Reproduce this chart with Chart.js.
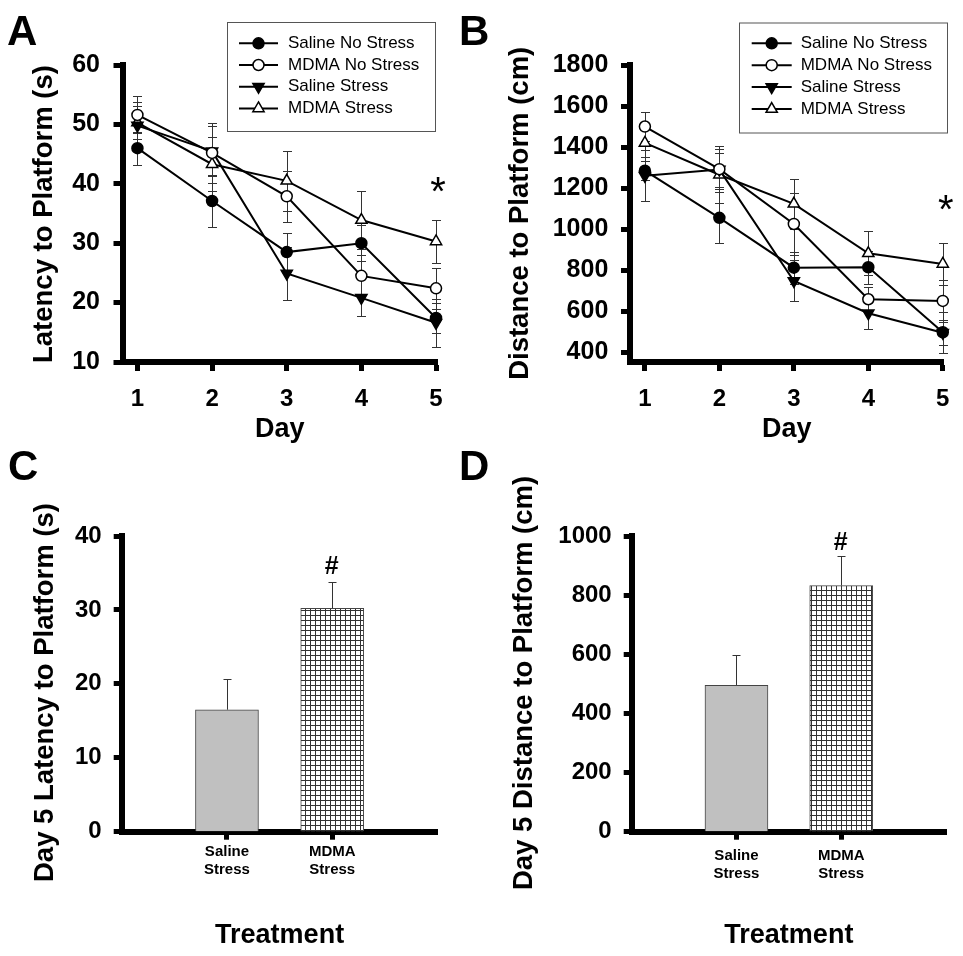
<!DOCTYPE html>
<html>
<head>
<meta charset="utf-8">
<script src="https://cdn.jsdelivr.net/npm/chart.js@4.4.0/dist/chart.umd.min.js"></script>
<style>
  body { margin: 0; background: #fff; }
  #wrap { position: relative; width: 963px; height: 956px; overflow: hidden; }
  canvas { position: absolute; }
  .tag { position: absolute; font: bold 42px "Liberation Sans", Arial, sans-serif; line-height: 42px; color: #000; }
</style>
</head>
<body>
<div id="wrap">
  <canvas id="chartA" width="481" height="460" style="left:0;top:0"></canvas>
  <canvas id="chartB" width="482" height="460" style="left:481px;top:0"></canvas>
  <canvas id="chartC" width="481" height="496" style="left:0;top:460px"></canvas>
  <canvas id="chartD" width="482" height="496" style="left:481px;top:460px"></canvas>
  <div class="tag" style="left:7px;top:9.5px">A</div>
  <div class="tag" style="left:459px;top:9.5px">B</div>
  <div class="tag" style="left:8px;top:445px">C</div>
  <div class="tag" style="left:459px;top:445px">D</div>
</div>
<script>
const FONT = "'Liberation Sans', Arial, sans-serif";
Chart.defaults.font.family = FONT;
Chart.defaults.color = '#000';

const days = [1, 2, 3, 4, 5];
const groups = ['Saline No Stress', 'MDMA No Stress', 'Saline Stress', 'MDMA Stress'];
const treatments = ['Saline Stress', 'MDMA Stress'];

const latencyTicks = [10, 20, 30, 40, 50, 60];
const distanceTicks = [400, 600, 800, 1000, 1200, 1400, 1600, 1800];
const day5LatencyTicks = [0, 10, 20, 30, 40];
const day5DistanceTicks = [0, 200, 400, 600, 800, 1000];

// A - latency to platform (s), mean and SEM per day
const latSalineNoStress = [46.0, 37.1, 28.5, 30.0, 17.4];
const latMdmaNoStress   = [51.6, 45.2, 37.9, 24.5, 22.4];
const latSalineStress   = [49.8, 45.5, 24.9, 20.8, 16.6];
const latMdmaStress     = [50.3, 43.3, 40.5, 33.9, 30.3];
const latSalineNoStressErr = [2.8, 4.3, 3.2, 3.0, 2.6];
const latMdmaNoStressErr   = [3.1, 5.0, 4.3, 3.5, 3.5];
const latSalineStressErr   = [4.0, 4.2, 4.5, 3.1, 4.0];
const latMdmaStressErr     = [2.8, 4.5, 5.0, 4.9, 3.6];

// B - distance to platform (cm)
const distSalineNoStress = [1285, 1055, 812, 814, 497];
const distMdmaNoStress   = [1500, 1292, 1025, 658, 650];
const distSalineStress   = [1260, 1290, 747, 590, 495];
const distMdmaStress     = [1420, 1265, 1123, 882, 830];
const distSalineNoStressErr = [45, 125, 78, 80, 60];
const distMdmaNoStressErr   = [72, 97, 152, 60, 102];
const distSalineStressErr   = [125, 83, 100, 78, 100];
const distMdmaStressErr     = [70, 139, 122, 108, 101];

// C, D - day 5 only
const day5Latency = [16.5, 30.2];
const day5LatencyErr = [4.1, 3.6];
const day5Distance = [495, 832];
const day5DistanceErr = [103, 101];

const markerStyles = [
  { pointStyle: 'circle', pointRadius: 5.5, pointBackgroundColor: '#000', pointRotation: 0 },
  { pointStyle: 'circle', pointRadius: 5.5, pointBackgroundColor: '#fff', pointRotation: 0 },
  { pointStyle: 'triangle', pointRadius: 6.5, pointBackgroundColor: '#000', pointRotation: 180 },
  { pointStyle: 'triangle', pointRadius: 6.5, pointBackgroundColor: '#fff', pointRotation: 0 }
];

function marker(ctx, opts, x, y) {
  if (Chart.helpers && Chart.helpers.drawPoint) {
    Chart.helpers.drawPoint(ctx, opts, x, y);
    return;
  }
  ctx.beginPath();
  if (opts.pointStyle === 'circle') {
    ctx.arc(x, y, opts.radius, 0, Math.PI * 2);
  } else {
    let rad = opts.rotation * Math.PI / 180;
    for (let k = 0; k < 3; k++) {
      const px = x + Math.sin(rad) * opts.radius, py = y - Math.cos(rad) * opts.radius;
      k ? ctx.lineTo(px, py) : ctx.moveTo(px, py);
      rad += 2 * Math.PI / 3;
    }
    ctx.closePath();
  }
  ctx.fill();
  ctx.stroke();
}

// error bars, y titles, legend box and significance marks
const decor = {
  id: 'decor',
  beforeDatasetsDraw(chart, args, o) {
    const ctx = chart.ctx, ys = chart.scales.y;
    ctx.save();
    ctx.strokeStyle = '#333';
    ctx.lineWidth = 1;
    chart.data.datasets.forEach((ds, i) => {
      if (!ds.errors) return;
      chart.getDatasetMeta(i).data.forEach((el, j) => {
        const v = ds.data[j].y, e = ds.errors[j];
        const x = Math.round(el.x) + 0.5;
        const hi = Math.round(ys.getPixelForValue(v + e)) + 0.5;
        const lo = o.upOnly ? el.y : Math.round(ys.getPixelForValue(v - e)) + 0.5;
        const c = o.cap;
        ctx.beginPath();
        ctx.moveTo(x, hi); ctx.lineTo(x, lo);
        ctx.moveTo(x - c, hi); ctx.lineTo(x + c, hi);
        if (!o.upOnly) { ctx.moveTo(x - c, lo); ctx.lineTo(x + c, lo); }
        ctx.stroke();
      });
    });
    ctx.restore();
  },
  afterDraw(chart, args, o) {
    const ctx = chart.ctx;
    ctx.save();
    ctx.fillStyle = '#000';
    if (o.yTitle) {
      const t = o.yTitle;
      ctx.save();
      ctx.translate(t.x, t.y);
      ctx.rotate(-Math.PI / 2);
      ctx.font = `bold 27.5px ${FONT}`;
      ctx.textAlign = 'center';
      ctx.textBaseline = 'alphabetic';
      ctx.fillText(t.text, 0, 0);
      ctx.restore();
    }
    if (o.legend) {
      const L = o.legend;
      ctx.strokeStyle = '#555';
      ctx.lineWidth = 1;
      ctx.strokeRect(L.x + 0.5, L.y + 0.5, L.w, L.h);
      ctx.font = `17px ${FONT}`;
      ctx.textAlign = 'left';
      ctx.textBaseline = 'middle';
      chart.data.datasets.forEach((ds, i) => {
        const ry = L.row0 + i * L.step;
        ctx.strokeStyle = '#000';
        ctx.lineWidth = 2;
        ctx.beginPath(); ctx.moveTo(L.x1, ry); ctx.lineTo(L.x2, ry); ctx.stroke();
        ctx.fillStyle = ds.pointBackgroundColor;
        ctx.lineWidth = ds.pointBorderWidth;
        marker(ctx, { pointStyle: ds.pointStyle, rotation: ds.pointRotation, radius: ds.pointRadius, borderWidth: ds.pointBorderWidth }, (L.x1 + L.x2) / 2, ry);
        ctx.fillStyle = '#000';
        ctx.fillText(ds.label, L.textX, ry);
      });
    }
    (o.marks || []).forEach(m => {
      ctx.font = `${m.font} ${FONT}`;
      ctx.textAlign = 'center';
      ctx.textBaseline = 'alphabetic';
      ctx.fillStyle = '#000';
      ctx.fillText(m.text, m.x, m.y);
    });
    ctx.restore();
  }
};

function axisStyle(tick) {
  return {
    border: { color: '#000', width: 6 },
    grid: { drawOnChartArea: false, offset: false, tickLength: tick, tickWidth: 5, tickColor: '#000' }
  };
}

function lineChart(id, c) {
  const datasets = c.means.map((m, i) => Object.assign({
    label: groups[i],
    data: days.map((d, j) => ({ x: d, y: m[j] })),
    errors: c.errs[i],
    borderColor: '#000',
    borderWidth: 2,
    pointBorderColor: '#000',
    pointBorderWidth: 1.5,
    tension: 0,
    clip: false
  }, markerStyles[i]));

  return new Chart(document.getElementById(id), {
    type: 'line',
    data: { datasets },
    options: {
      responsive: false, animation: false, devicePixelRatio: 1, events: [],
      layout: { padding: { left: 0, top: c.area.t, right: c.W - c.area.r, bottom: 0 } },
      plugins: { legend: { display: false }, tooltip: { enabled: false }, decor: c.decor },
      scales: {
        x: Object.assign(axisStyle(9), {
          type: 'linear', min: c.xMin, max: c.xMax, offset: false,
          afterBuildTicks: s => { s.ticks = days.map(v => ({ value: v })); },
          afterFit: s => { s.height = c.H - c.area.b; },
          ticks: { padding: 13.5, font: { size: 24, weight: 'bold' }, callback: v => String(v) },
          title: { display: true, text: 'Day', font: { size: 27, weight: 'bold' }, padding: { top: 0, bottom: 13.9 } }
        }),
        y: Object.assign(axisStyle(9), {
          type: 'linear', min: c.yMin, max: c.yMax,
          afterBuildTicks: s => { s.ticks = c.yTicks.map(v => ({ value: v })); },
          afterFit: s => { s.width = c.area.l; },
          ticks: { padding: c.yPad, font: { size: 25, weight: 'bold' }, callback: v => String(v) }
        })
      }
    },
    plugins: [decor]
  });
}

function gridPattern() {
  const pc = document.createElement('canvas');
  pc.width = 5; pc.height = 5;
  const g = pc.getContext('2d');
  g.fillStyle = '#fff'; g.fillRect(0, 0, 5, 5);
  g.fillStyle = '#333'; g.fillRect(0, 0, 5, 1); g.fillRect(0, 0, 1, 5);
  return g.createPattern(pc, 'repeat');
}

function barChart(id, c) {
  return new Chart(document.getElementById(id), {
    type: 'bar',
    data: {
      datasets: [{
        data: c.values.map((v, i) => ({ x: i + 1, y: v })),
        errors: c.errs,
        backgroundColor: ['#c0c0c0', gridPattern()],
        borderColor: '#444',
        borderWidth: 1,
        barThickness: 63
      }]
    },
    options: {
      responsive: false, animation: false, devicePixelRatio: 1, events: [],
      layout: { padding: { left: 0, top: c.area.t, right: c.W - c.area.r, bottom: 0 } },
      plugins: { legend: { display: false }, tooltip: { enabled: false }, decor: c.decor },
      scales: {
        x: Object.assign(axisStyle(8), {
          type: 'linear', min: 0, max: 3, offset: false,
          afterBuildTicks: s => { s.ticks = treatments.map((t, i) => ({ value: i + 1 })); },
          afterFit: s => { s.height = c.H - c.area.b; },
          ticks: { padding: c.xPad, font: { size: 15, weight: 'bold' }, callback: v => treatments[v - 1].split(' ') },
          title: { display: true, text: 'Treatment', font: { size: 27, weight: 'bold' }, padding: { top: 0, bottom: 4.3 } }
        }),
        y: Object.assign(axisStyle(8), {
          type: 'linear', min: c.yMin, max: c.yMax,
          afterBuildTicks: s => { s.ticks = c.yTicks.map(v => ({ value: v })); },
          afterFit: s => { s.width = c.area.l; },
          ticks: { padding: 12, font: { size: 24, weight: 'bold' }, callback: v => String(v) }
        })
      }
    },
    plugins: [decor]
  });
}

lineChart('chartA', {
  W: 481, H: 460, area: { l: 122.5, r: 437, t: 65, b: 362 },
  xMin: 0.8, xMax: 5.013, yMin: 10, yMax: 60, yTicks: latencyTicks, yPad: 13.5,
  means: [latSalineNoStress, latMdmaNoStress, latSalineStress, latMdmaStress],
  errs: [latSalineNoStressErr, latMdmaNoStressErr, latSalineStressErr, latMdmaStressErr],
  decor: {
    cap: 4.5,
    yTitle: { text: 'Latency to Platform (s)', x: 51.7, y: 214 },
    legend: { x: 227, y: 22, w: 208, h: 109, row0: 43.3, step: 21.7, x1: 239, x2: 278, textX: 288 },
    marks: [{ text: '*', x: 438, y: 205, font: '40px' }]
  }
});

lineChart('chartB', {
  W: 482, H: 460, area: { l: 149, r: 465, t: 65, b: 362 },
  xMin: 0.8, xMax: 5.01, yMin: 352, yMax: 1800, yTicks: distanceTicks, yPad: 12.7,
  means: [distSalineNoStress, distMdmaNoStress, distSalineStress, distMdmaStress],
  errs: [distSalineNoStressErr, distMdmaNoStressErr, distSalineStressErr, distMdmaStressErr],
  decor: {
    cap: 4.5,
    yTitle: { text: 'Distance to Platform (cm)', x: 47.3, y: 213.3 },
    legend: { x: 258, y: 22.5, w: 208, h: 110, row0: 43.3, step: 21.9, x1: 270.7, x2: 310.7, textX: 319.7 },
    marks: [{ text: '*', x: 464.7, y: 223, font: '40px' }]
  }
});

barChart('chartC', {
  W: 481, H: 496, area: { l: 121.7, r: 437.5, t: 76, b: 371.7 },
  yMin: 0, yMax: 40, yTicks: day5LatencyTicks, xPad: 3.5,
  values: day5Latency, errs: day5LatencyErr,
  decor: {
    cap: 4, upOnly: true,
    yTitle: { text: 'Day 5 Latency to Platform (s)', x: 53.3, y: 232.5 },
    marks: [{ text: '#', x: 331.7, y: 114, font: 'bold 25px' }]
  }
});

barChart('chartD', {
  W: 482, H: 496, area: { l: 150.7, r: 465, t: 76, b: 371.7 },
  yMin: 0, yMax: 1000, yTicks: day5DistanceTicks, xPad: 6.8,
  values: day5Distance, errs: day5DistanceErr,
  decor: {
    cap: 4, upOnly: true,
    yTitle: { text: 'Day 5 Distance to Platform (cm)', x: 50.7, y: 223 },
    marks: [{ text: '#', x: 359.7, y: 90, font: 'bold 25px' }]
  }
});
</script>
</body>
</html>
